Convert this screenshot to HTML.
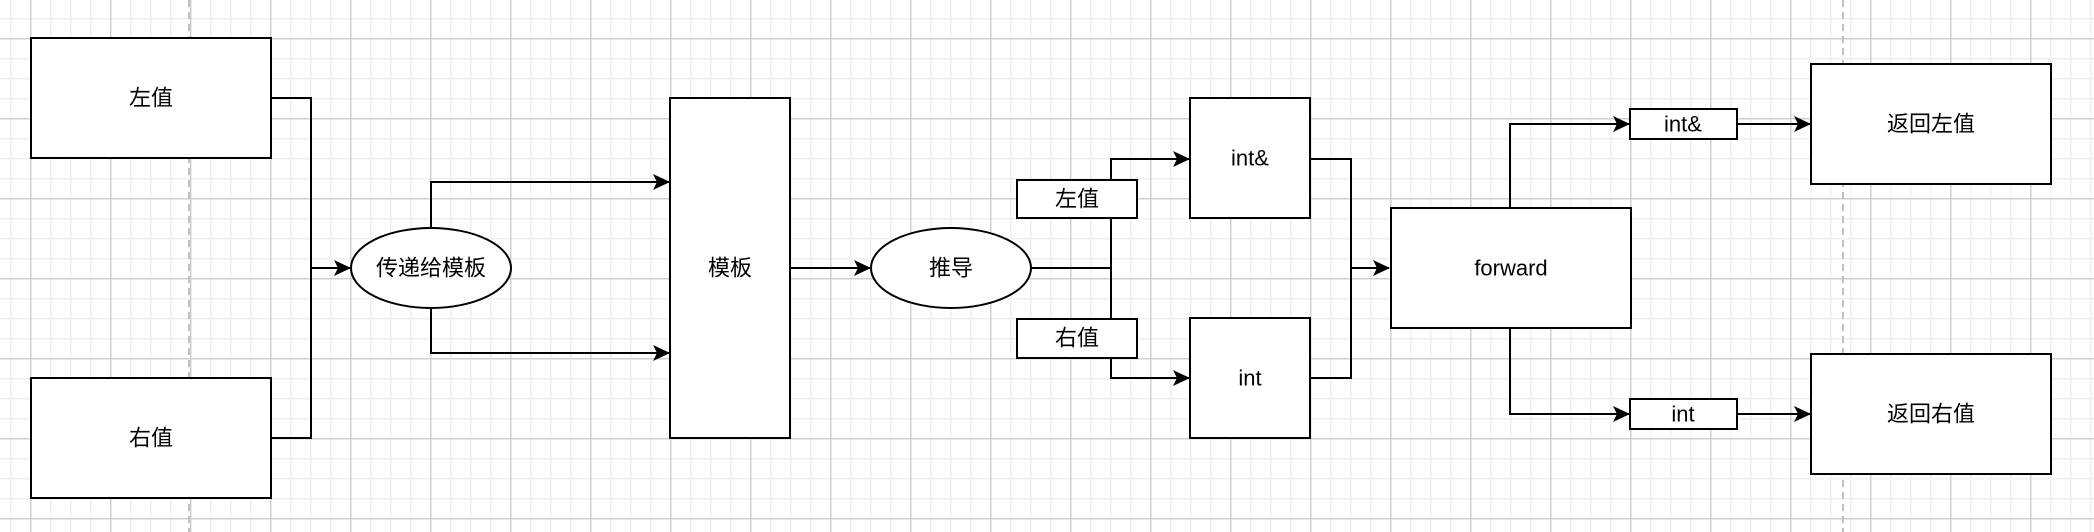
<!DOCTYPE html>
<html><head><meta charset="utf-8"><style>
html,body{margin:0;padding:0;width:2094px;height:532px;overflow:hidden;background:#fff}
.bg{position:absolute;left:0;top:0;width:2094px;height:532px;
background-image:
linear-gradient(to right,#d0d0d0 1.5px,transparent 1.5px),
linear-gradient(to bottom,#d0d0d0 1.5px,transparent 1.5px),
linear-gradient(to right,#efefef 1.5px,transparent 1.5px),
linear-gradient(to bottom,#efefef 1.5px,transparent 1.5px);
background-size:80px 80px,80px 80px,20px 20px,20px 20px;
background-position:30px 38px,30px 38px,10px 18px,10px 18px;}
svg{position:absolute;left:0;top:0}
text{font-family:"Liberation Sans","Noto Sans CJK SC",sans-serif;font-size:22px;fill:#000;text-anchor:middle;dominant-baseline:central}
</style></head><body>
<div class="bg"></div>
<svg width="2094" height="532" viewBox="0 0 2094 532">
<defs><marker id="a" markerWidth="18" markerHeight="18" refX="16" refY="8" orient="auto" markerUnits="userSpaceOnUse">
<path d="M0,0 L17,8 L0,16 L4,8 Z" fill="#000"/></marker></defs>
<line x1="189" y1="0" x2="189" y2="532" stroke="#c0c0c0" stroke-width="2" stroke-dasharray="7,5"/>
<line x1="1843" y1="0" x2="1843" y2="532" stroke="#c0c0c0" stroke-width="2" stroke-dasharray="7,5"/>
<g fill="none" stroke="#000" stroke-width="2">
<polyline points="271,98 311,98 311,438 271,438"/>
<line x1="311" y1="268" x2="350" y2="268" marker-end="url(#a)"/>
<polyline points="431,228 431,182 669,182" marker-end="url(#a)"/>
<polyline points="431,308 431,353 669,353" marker-end="url(#a)"/>
<line x1="790" y1="268" x2="870" y2="268" marker-end="url(#a)"/>
<line x1="1031" y1="268" x2="1111" y2="268"/>
<polyline points="1111,378 1111,159 1189,159" marker-end="url(#a)"/>
<polyline points="1111,268 1111,378 1189,378" marker-end="url(#a)"/>
<polyline points="1310,159 1351,159 1351,378 1310,378"/>
<line x1="1351" y1="268" x2="1389" y2="268" marker-end="url(#a)"/>
<polyline points="1510,208 1510,124 1629,124" marker-end="url(#a)"/>
<polyline points="1510,328 1510,414 1629,414" marker-end="url(#a)"/>
<line x1="1737" y1="124" x2="1810" y2="124" marker-end="url(#a)"/>
<line x1="1737" y1="414" x2="1810" y2="414" marker-end="url(#a)"/>
</g>
<g fill="#fff" stroke="#000" stroke-width="2">
<rect x="31" y="38" width="240" height="120"/>
<rect x="31" y="378" width="240" height="120"/>
<ellipse cx="431" cy="268" rx="80" ry="40"/>
<rect x="670" y="98" width="120" height="340"/>
<ellipse cx="951" cy="268" rx="80" ry="40"/>
<rect x="1017" y="180" width="120" height="38"/>
<rect x="1017" y="319" width="120" height="39"/>
<rect x="1190" y="98" width="120" height="120"/>
<rect x="1190" y="318" width="120" height="120"/>
<rect x="1391" y="208" width="240" height="120"/>
<rect x="1630" y="109" width="107" height="30"/>
<rect x="1630" y="399" width="107" height="30"/>
<rect x="1811" y="64" width="240" height="120"/>
<rect x="1811" y="354" width="240" height="120"/>
</g>
<text x="151" y="98">左值</text>
<text x="151" y="438">右值</text>
<text x="431" y="268">传递给模板</text>
<text x="730" y="268">模板</text>
<text x="951" y="268">推导</text>
<text x="1077" y="199">左值</text>
<text x="1077" y="338">右值</text>
<text x="1250" y="158">int&amp;</text>
<text x="1250" y="378">int</text>
<text x="1511" y="268">forward</text>
<text x="1683" y="124">int&amp;</text>
<text x="1683" y="414">int</text>
<text x="1931" y="124">返回左值</text>
<text x="1931" y="414">返回右值</text>
</svg>
</body></html>
